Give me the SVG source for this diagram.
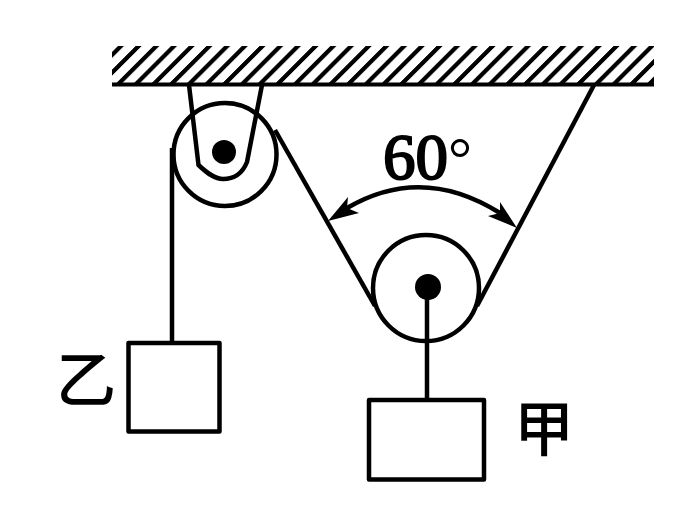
<svg xmlns="http://www.w3.org/2000/svg" width="698" height="526" viewBox="0 0 698 526">
<style>
.l{fill:none;stroke:#000;stroke-width:4.500}
.b{fill:#fff;stroke:#000;stroke-width:4.500;stroke-linejoin:round}
.h{stroke:#000;stroke-width:6;fill:none}
.d{fill:#000;stroke:none}
.c{font-family:"Noto Sans CJK SC",sans-serif;font-size:60px;font-weight:500;fill:#000;text-anchor:middle}
.n{font-family:"Liberation Serif",serif;font-size:65px;fill:#000;stroke:#000;stroke-width:2}
.o{font-family:"Liberation Serif",serif;font-size:60px;fill:#000;stroke-width:0}
</style>
<defs>
<pattern id="hatch" patternUnits="userSpaceOnUse" width="17.7" height="38" patternTransform="translate(112 46) skewX(-45)">
<line class="h" x1="9" y1="0" x2="9" y2="38"/>
</pattern>
</defs>
<rect width="698" height="526" fill="#fff"/>
<g id="ceiling">
<rect x="112" y="46" width="542" height="38" fill="url(#hatch)"/>
<line x1="112" y1="84.500" x2="654" y2="84.500" stroke="#000" stroke-width="4"/>
</g>
<g id="connectors">
<path class="l" d="M189 85L198.500 165C208 174 215 179 223 179C235 179 243 172 247 162L262 85"/>
<path class="l" d="M172 148V344"/>
<path class="l" d="M275 130L375 306"/>
<path class="l" d="M594 85L477 306"/>
<path class="l" d="M427 287V400"/>
<path class="l" d="M347 208Q422 164 500 213"/>
<polygon class="d" points="328,221 348,197 347,208 359,213"/>
<polygon class="d" points="517,228 500,202 500,213 488,216"/>
</g>
<g id="pulley-left">
<circle class="l" cx="225" cy="154.500" r="51.500"/>
<circle class="d" cx="224" cy="152" r="12"/>
</g>
<g id="pulley-right">
<circle class="l" cx="426" cy="288" r="53"/>
<circle class="d" cx="428" cy="287" r="13"/>
</g>
<g id="block-yi">
<rect class="b" x="128.500" y="343" width="91" height="88.500"/>
<text class="c" x="86" y="402">乙</text>
</g>
<g id="block-jia">
<rect class="b" x="369" y="400" width="115" height="79.500"/>
<text class="c" x="544" y="451">甲</text>
</g>
<g id="angle-label">
<text class="n" x="383" y="179">60<tspan class="o">°</tspan></text>
</g>
</svg>
